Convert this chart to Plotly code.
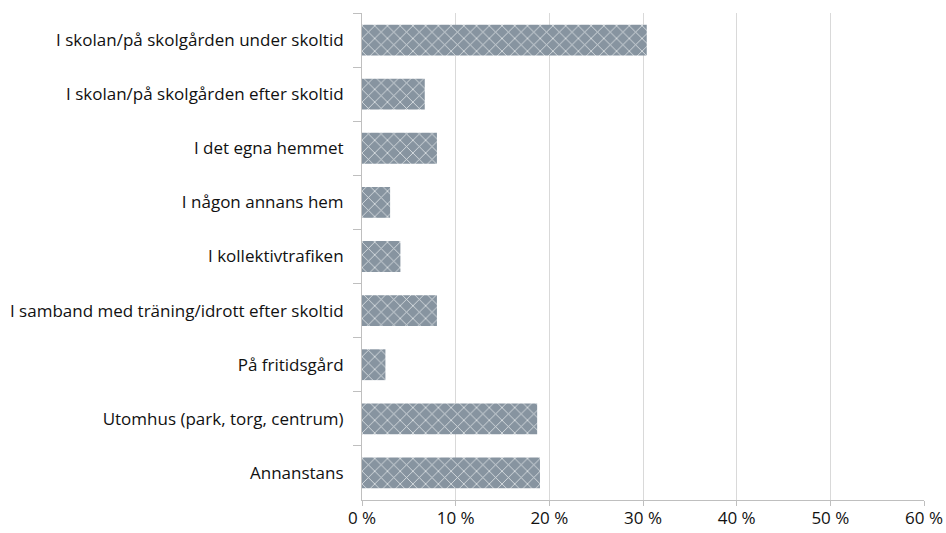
import plotly.graph_objects as go

categories = [
    "I skolan/på skolgården under skoltid",
    "I skolan/på skolgården efter skoltid",
    "I det egna hemmet",
    "I någon annans hem",
    "I kollektivtrafiken",
    "I samband med träning/idrott efter skoltid",
    "På fritidsgård",
    "Utomhus (park, torg, centrum)",
    "Annanstans",
]
values = [30.4, 6.7, 8.0, 3.0, 4.1, 8.0, 2.5, 18.7, 19.0]
tick_vals = [0, 10, 20, 30, 40, 50, 60]
tick_text = ["0 %", "10 %", "20 %", "30 %", "40 %", "50 %", "60 %"]

fig = go.Figure(go.Bar(
    x=values,
    y=categories,
    orientation="h",
    marker=dict(
        color="#8794a0",
        line=dict(width=0),
        pattern=dict(shape="x", fgcolor="#dde2e6", bgcolor="#8794a0",
                     size=9, solidity=0.18, fillmode="replace"),
    ),
    hoverinfo="x+y",
))

fig.update_layout(
    width=946, height=533,
    margin=dict(l=362, r=22, t=13, b=33, autoexpand=False),
    plot_bgcolor="white", paper_bgcolor="white",
    bargap=0.43,
    showlegend=False,
    font=dict(family="Open Sans", size=17, color="#111111"),
)
fig.update_xaxes(
    range=[0, 60], tickvals=tick_vals, ticktext=tick_text,
    showgrid=True, gridcolor="#d9d9d9", gridwidth=1,
    showline=True, linecolor="#bfbfbf", linewidth=1,
    ticks="outside", ticklen=5, tickcolor="#bfbfbf",
    zeroline=False, tickfont=dict(size=17), automargin=False,
    ticklabelstandoff=-2,
)
fig.update_yaxes(
    autorange="reversed", showline=True, linecolor="#bfbfbf", linewidth=1,
    ticks="outside", tickson="boundaries", ticklen=8, tickcolor="#bfbfbf",
    showgrid=False, ticklabelstandoff=14, tickfont=dict(size=17), automargin=False,
)

page_css = (
    "document.documentElement.style.margin='0';"
    "document.body.style.margin='0';"
    "document.documentElement.style.overflow='hidden';"
    "document.body.style.overflow='hidden';"
)
fig.write_html("out.html", post_script=page_css,
               config={"displayModeBar": False})
